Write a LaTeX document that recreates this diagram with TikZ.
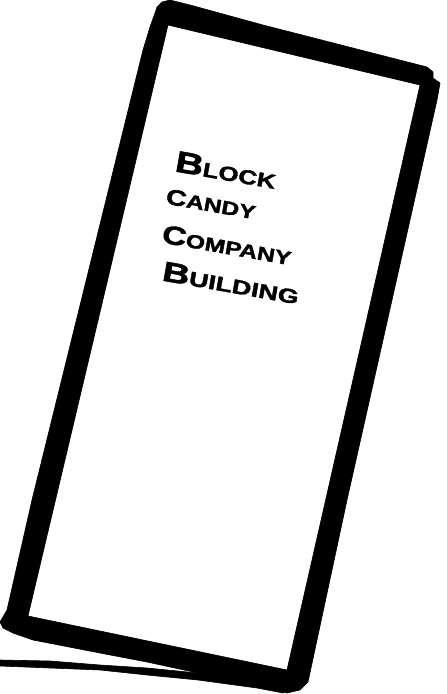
\documentclass[tikz,border=0pt]{standalone}
\usepackage{fontspec}
\setmainfont{Liberation Sans}
\newfontfamily\handfont{Liberation Sans}[BoldFeatures={FakeBold=1.6}]
\begin{document}
\begin{tikzpicture}[x=1pt,y=-1pt,
  ink/.style={fill=black,draw=black,line width=0.6pt,line join=round},
  hand/.style={font=\handfont\bfseries,inner sep=0pt,rotate=-10,text=black},
]
\useasboundingbox (0,0) rectangle (447,694);
\fill[white] (0,0) rectangle (447,694);
% frame (outer minus inner)
\path[ink,even odd rule]
  (157,7) -- (162,2) -- (170,0) -- (190,5) -- (263,25) -- (427,67) -- (433,72)
  -- (433,78) -- (440,83) -- (437,100) -- (347,500) -- (308,682) -- (300,690)
  -- (287,693) -- (198,673) -- (147,662) -- (100,653) -- (33,640) -- (13,633)
  -- (3,628) -- (0,622) -- (7,610) -- (32,500) -- (143,50) -- (150,27)
  -- (155,13) -- cycle
  (168,25) -- (420,85) -- (287,670) -- (28,616) -- cycle;
% extra ground stroke
\path[ink]
  (0,660) -- (50,661) -- (100,665) -- (147,668) -- (198,673) -- (257,684)
  -- (285,690) -- (283,693) -- (257,688) -- (198,680) -- (147,675)
  -- (100,670) -- (0,666) -- cycle;
% label
\node[hand,xscale=1.3] (w1) at (226,170) {{\fontsize{30}{30}\selectfont B}{\fontsize{20}{20}\selectfont LOCK}};
\node[hand,xscale=1.3] (w2) at (211,204) {{\fontsize{22}{22}\selectfont C}{\fontsize{19}{19}\selectfont ANDY}};
\node[hand,xscale=1.3] (w3) at (227,245) {{\fontsize{26}{26}\selectfont C}{\fontsize{19}{19}\selectfont OMPANY}};
\node[hand,xscale=1.35] (w4) at (231,283) {{\fontsize{28}{28}\selectfont B}{\fontsize{20}{20}\selectfont UILDING}};
\end{tikzpicture}
\end{document}
